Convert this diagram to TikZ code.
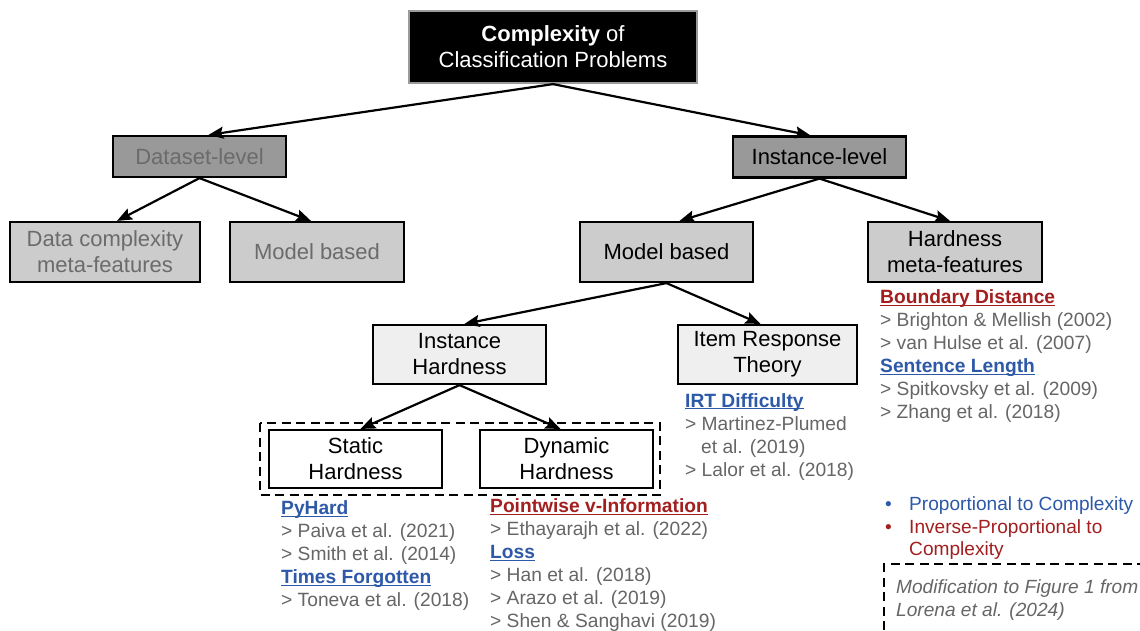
\documentclass[tikz,border=0pt]{standalone}
\usepackage{fontspec}
\setmainfont{Liberation Sans}
\usetikzlibrary{arrows.meta}
\definecolor{hdred}{HTML}{A31F1F}
\definecolor{hdblue}{HTML}{2D59A8}
\definecolor{reftxt}{HTML}{666666}
\definecolor{dimtxt}{HTML}{6B6B6B}
\definecolor{lvlone}{HTML}{999999}
\definecolor{lvltwo}{HTML}{CCCCCC}
\definecolor{lvlthree}{HTML}{EFEFEF}
\definecolor{topedge}{HTML}{9A9A9A}
\newcommand\hdline[2]{\textcolor{#1}{\setbox0\hbox{\bfseries #2}\rlap{\rule[-2.4pt]{\wd0}{1.3pt}}\box0}}
\begin{document}
\begin{tikzpicture}[x=1pt,y=-1pt,
  box/.style={draw=black,line width=2.2pt,rectangle,inner sep=0pt,align=center,
    font=\fontsize{22}{26}\selectfont},
  conn/.style={line width=2.2pt,-{Stealth[length=15pt,width=12pt,inset=2.5pt]}},
  refs/.style={anchor=base west,inner sep=0pt,align=left,
    font=\fontsize{19.2}{23}\selectfont,text=reftxt},
  legendtxt/.style={anchor=base west,inner sep=0pt,align=left,
    font=\fontsize{19.1}{22.5}\selectfont}]
\useasboundingbox (0,0) rectangle (1140,630);
\fill[white] (0,0) rectangle (1140,630);

% boxes
\node[box,fill=black,draw=topedge,text=white,minimum width=288pt,minimum height=72pt] (top) at (553,47)
  {\textbf{Complexity} of\\Classification Problems};
\node[box,fill=lvlone,text=dimtxt,minimum width=173pt,minimum height=41pt] (ds) at (199.5,156.5) {Dataset-level};
\node[box,fill=lvlone,minimum width=173pt,minimum height=41pt] (il) at (819.5,157) {Instance-level};
\node[box,fill=lvltwo,text=dimtxt,minimum width=190pt,minimum height=60pt] (dc) at (105,252) {Data complexity\\meta-features};
\node[box,fill=lvltwo,text=dimtxt,minimum width=174pt,minimum height=60pt] (mbl) at (317,252) {Model based};
\node[box,fill=lvltwo,minimum width=173pt,minimum height=60pt] (mbr) at (666.5,252) {Model based};
\node[box,fill=lvltwo,minimum width=174pt,minimum height=60pt] (hm) at (955,252) {Hardness\\meta-features};
\node[box,fill=lvlthree,minimum width=173pt,minimum height=59pt] (ih) at (459.5,354.5) {Instance\\Hardness};
\node[box,fill=lvlthree,minimum width=179pt,minimum height=59pt] (irt) at (767.5,354.5) {Item Response\\Theory};
\node[box,fill=white,minimum width=173pt,minimum height=58pt] (sh) at (355.5,459) {Static\\Hardness};
\node[box,fill=white,minimum width=173pt,minimum height=58pt] (dh) at (566.5,459) {Dynamic\\Hardness};
\draw[line width=2pt,dash pattern=on 9pt off 5.5pt] (260,423) rectangle (660,495);

% connectors
\draw[conn] (top.south) -- ([xshift=9pt]ds.north);
\draw[conn] (top.south) -- ([xshift=-9pt]il.north);
\draw[conn] (ds.south) -- ([xshift=12pt]dc.north);
\draw[conn] (ds.south) -- ([xshift=-6pt]mbl.north);
\draw[conn] (il.south) -- ([xshift=13pt]mbr.north);
\draw[conn] (il.south) -- ([xshift=-5pt]hm.north);
\draw[conn] (mbr.south) -- ([xshift=5pt]ih.north);
\draw[conn] (mbr.south) -- ([xshift=-7pt]irt.north);
\draw[conn] (ih.south) -- ([xshift=5pt]sh.north);
\draw[conn] (ih.south) -- ([xshift=-6pt]dh.north);

% references (anchor = baseline of the last line)
\node[refs] (hmrefs) at (880,418.5) {\hdline{hdred}{Boundary Distance}\\
  > Brighton \& Mellish (2002)\\
  > van Hulse et al. (2007)\\
  \hdline{hdblue}{Sentence Length}\\
  > Spitkovsky et al. (2009)\\
  > Zhang et al. (2018)};
\node[refs] (irtrefs) at (685,476) {\hdline{hdblue}{IRT Difficulty}\\
  > Martinez-Plumed\\
  \hspace*{16pt}et al. (2019)\\
  > Lalor et al. (2018)};
\node[refs] (shrefs) at (281,606.5) {\hdline{hdblue}{PyHard}\\
  > Paiva et al. (2021)\\
  > Smith et al. (2014)\\
  \hdline{hdblue}{Times Forgotten}\\
  > Toneva et al. (2018)};
\node[refs] (dhrefs) at (490,627.5) {\hdline{hdred}{Pointwise v-Information}\\
  > Ethayarajh et al. (2022)\\
  \hdline{hdblue}{Loss}\\
  > Han et al. (2018)\\
  > Arazo et al. (2019)\\
  > Shen \& Sanghavi (2019)};

% legend
\node[legendtxt] (legend) at (884,555.5) {\textcolor{hdblue}{\makebox[25pt][l]{\hspace*{1pt}•}Proportional to Complexity}\\
  \textcolor{hdred}{\makebox[25pt][l]{\hspace*{1pt}•}Inverse-Proportional to}\\
  \hspace*{25pt}\textcolor{hdred}{Complexity}};

% note
\draw[line width=2pt,dash pattern=on 9pt off 5.5pt] (1146,564) -- (884,564) -- (884,636);
\node[refs,font=\itshape\fontsize{19.1}{23}\selectfont] (note) at (896,616.5)
  {Modification to Figure 1 from\\Lorena et al. (2024)};
\end{tikzpicture}
\end{document}
